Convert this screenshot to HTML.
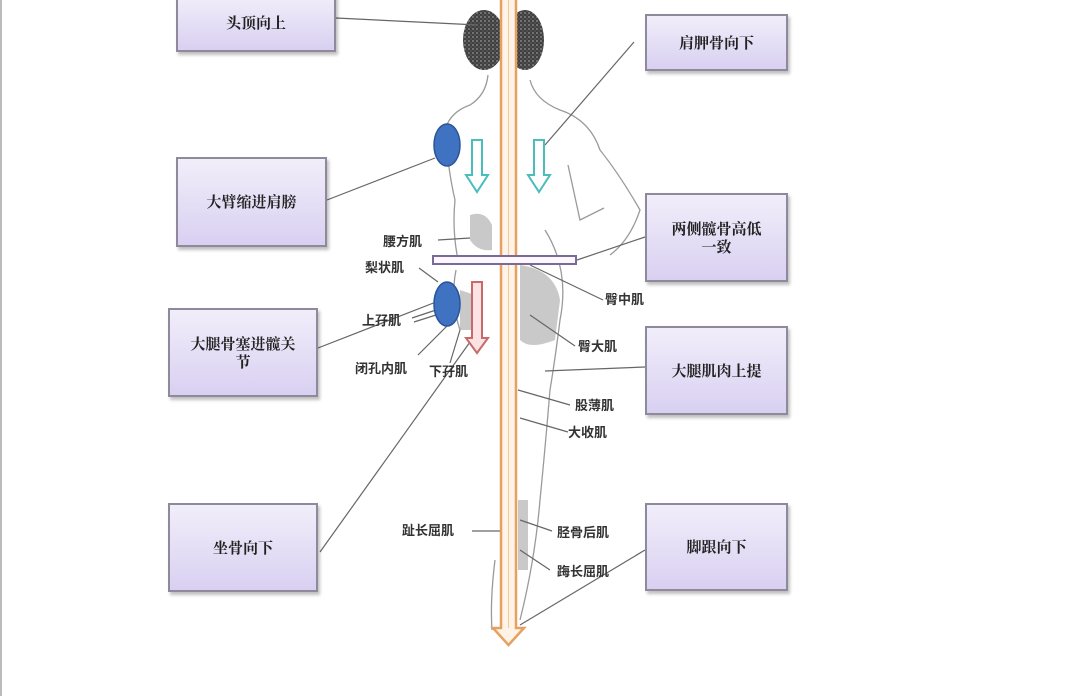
<!DOCTYPE html>
<html><head><meta charset="utf-8"><style>
html,body{margin:0;padding:0;background:#fff;}
body{width:1066px;height:696px;overflow:hidden;position:relative;font-family:"Liberation Sans","Noto Sans CJK SC",sans-serif;}
.box{position:absolute;box-sizing:border-box;border:2px solid #8e8a9c;background:linear-gradient(#f1eefa,#d9d0f1);box-shadow:2px 3px 3px rgba(0,0,0,0.25);display:flex;align-items:center;justify-content:center;text-align:center;font-weight:bold;font-size:15px;color:#222;line-height:18px;font-family:"Noto Serif CJK SC","Noto Sans CJK SC",serif;}
svg{position:absolute;left:0;top:0;}
svg text{font-family:"Noto Sans CJK SC",sans-serif;font-size:13px;fill:#333;font-weight:bold;}
</style></head><body>
<svg width="1066" height="696" viewBox="0 0 1066 696">
<defs>
<pattern id="hair" width="4" height="4" patternUnits="userSpaceOnUse">
<rect width="4" height="4" fill="#2a2a2a"/>
<circle cx="1" cy="1" r="0.9" fill="#8a8a8a"/>
<circle cx="3" cy="3" r="0.6" fill="#666"/>
</pattern>
</defs>
<line x1="1" y1="0" x2="1" y2="696" stroke="#bbb" stroke-width="2"/>
<!-- figure sketch -->
<g fill="none" stroke="#9a9a9a" stroke-width="1.3">
<ellipse cx="484" cy="40" rx="21" ry="30" fill="url(#hair)" stroke="none" opacity="0.9"/>
<ellipse cx="525" cy="40" rx="19" ry="30" fill="url(#hair)" stroke="none" opacity="0.9"/>
<path d="M488 75 Q486 95 470 105 Q450 112 445 130 Q448 170 455 200 Q452 230 458 260"/>
<path d="M530 80 Q535 100 560 110 Q590 120 600 150 Q620 175 640 210 Q630 240 610 255"/>
<path d="M568 165 L580 220 L604 208"/>
<path d="M545 230 Q570 270 560 320 Q555 360 550 390 Q545 450 540 500 Q535 560 520 620"/>
<path d="M456 270 Q450 300 460 330"/>
<path d="M495 560 Q490 600 492 630"/>
</g>
<g fill="#888" opacity="0.45">
<path d="M470 215 Q485 210 492 225 L492 250 Q478 252 470 240Z"/>
<path d="M520 265 Q555 270 560 300 L555 340 Q530 350 520 340Z"/>
<path d="M460 290 L475 295 L475 330 L460 330Z"/>
<path d="M518 500 L528 500 L528 570 L518 570Z"/>
</g>
<!-- connectors -->
<g stroke="#666" stroke-width="1.2" fill="none">
<line x1="336" y1="18" x2="478" y2="25"/>
<line x1="634" y1="42" x2="545" y2="145"/>
<line x1="327" y1="200" x2="435" y2="158"/>
<line x1="645" y1="237" x2="577" y2="260"/>
<line x1="318" y1="348" x2="436" y2="302"/>
<line x1="645" y1="367" x2="545" y2="371"/>
<line x1="320" y1="552" x2="470" y2="342"/>
<line x1="645" y1="550" x2="520" y2="625"/>
<line x1="438" y1="240" x2="470" y2="238"/>
<line x1="419" y1="268" x2="438" y2="282"/>
<line x1="412" y1="318" x2="436" y2="310"/>
<line x1="414" y1="322" x2="436" y2="315"/>
<line x1="418" y1="355" x2="448" y2="325"/>
<line x1="450" y1="363" x2="460" y2="330"/>
<line x1="603" y1="300" x2="530" y2="265"/>
<line x1="575" y1="346" x2="530" y2="315"/>
<line x1="570" y1="405" x2="518" y2="390"/>
<line x1="568" y1="432" x2="520" y2="418"/>
<line x1="472" y1="531" x2="500" y2="531"/>
<line x1="552" y1="531" x2="520" y2="520"/>
<line x1="550" y1="570" x2="520" y2="550"/>
</g>
<!-- blue ovals -->
<ellipse cx="447" cy="145" rx="13" ry="21" fill="#3f73c1" stroke="#2a5598" stroke-width="1.5"/>
<ellipse cx="447" cy="304" rx="13" ry="22" fill="#3f73c1" stroke="#2a5598" stroke-width="1.5"/>
<!-- teal arrows -->
<path d="M472 140 L482 140 L482 175 L488 175 L477 192 L466 175 L472 175 Z" fill="#fff" stroke="#4bbdbd" stroke-width="2"/>
<path d="M534 140 L544 140 L544 175 L550 175 L539 192 L528 175 L534 175 Z" fill="#fff" stroke="#4bbdbd" stroke-width="2"/>
<!-- pink arrow -->
<path d="M472 282 L482 282 L482 338 L488 338 L477 353 L466 338 L472 338 Z" fill="#fbe3e3" stroke="#c86a6a" stroke-width="2"/>
<!-- main orange arrow -->
<path d="M501 -5 L516 -5 L516 628 L524 628 L508.5 645 L493 628 L501 628 Z" fill="#fdf3e6" stroke="#e8a060" stroke-width="2.5"/>
<line x1="508.5" y1="0" x2="508.5" y2="628" stroke="#f2c79a" stroke-width="1"/>
<!-- hip bar (over arrow) -->
<rect x="433" y="256" width="143" height="8" fill="#fbf7fb" stroke="#7a6a9a" stroke-width="2"/>
<!-- labels -->
<text x="383" y="246">腰方肌</text>
<text x="365" y="272">梨状肌</text>
<text x="362" y="325">上孖肌</text>
<text x="355" y="373">闭孔内肌</text>
<text x="429" y="376">下孖肌</text>
<text x="605" y="304">臀中肌</text>
<text x="578" y="351">臀大肌</text>
<text x="575" y="410">股薄肌</text>
<text x="568" y="437">大收肌</text>
<text x="402" y="535">趾长屈肌</text>
<text x="557" y="537">胫骨后肌</text>
<text x="557" y="576">踇长屈肌</text>
</svg>
<div class="box" style="left:176px;top:-6px;width:160px;height:58px;">头顶向上</div>
<div class="box" style="left:645px;top:14px;width:143px;height:57px;">肩胛骨向下</div>
<div class="box" style="left:176px;top:157px;width:151px;height:90px;">大臂缩进肩膀</div>
<div class="box" style="left:645px;top:193px;width:143px;height:89px;">两侧髋骨高低<br>一致</div>
<div class="box" style="left:168px;top:308px;width:150px;height:89px;">大腿骨塞进髋关<br>节</div>
<div class="box" style="left:645px;top:326px;width:143px;height:89px;">大腿肌肉上提</div>
<div class="box" style="left:168px;top:503px;width:150px;height:89px;">坐骨向下</div>
<div class="box" style="left:645px;top:503px;width:143px;height:88px;">脚跟向下</div>
</body></html>
